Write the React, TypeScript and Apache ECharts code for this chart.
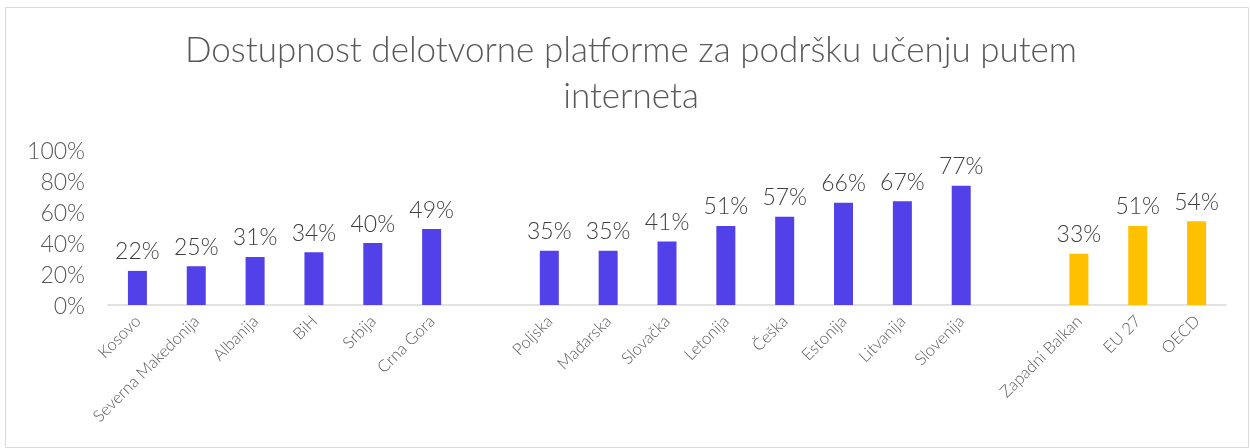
import React, { useEffect, useRef } from "react";
import * as echarts from "echarts";

const titleLines = ["Dostupnost delotvorne platforme za podršku učenju putem", "interneta"];
const balkanNames = ["Kosovo", "Severna Makedonija", "Albanija", "BiH", "Srbija", "Crna Gora"];
const balkanValues = [22, 25, 31, 34, 40, 49];
const euNames = ["Poljska", "Mađarska", "Slovačka", "Letonija", "Češka", "Estonija", "Litvanija", "Slovenija"];
const euValues = [35, 35, 41, 51, 57, 66, 67, 77];
const refNames = ["Zapadni Balkan", "EU 27", "OECD"];
const refValues = [33, 51, 54];
const yTicks = [0, 20, 40, 60, 80, 100];

const PURPLE = "#5240E8";
const YELLOW = "#FFC000";

export default function App() {
  const ref = useRef<HTMLDivElement>(null);
  useEffect(() => {
    document.body.style.margin = "0";
    const chart = echarts.init(ref.current!, null, { renderer: "svg" });
    const categories = [...balkanNames, "", ...euNames, "", ...refNames];
    const data: any[] = [
      ...balkanValues.map((v) => ({ value: v, itemStyle: { color: PURPLE } })),
      { value: null },
      ...euValues.map((v) => ({ value: v, itemStyle: { color: PURPLE } })),
      { value: null },
      ...refValues.map((v) => ({ value: v, itemStyle: { color: YELLOW } })),
    ];
    chart.setOption({
      animation: false,
      textStyle: { fontFamily: "Lato" },
      graphic: [
        {
          type: "rect",
          shape: { x: 5.5, y: 7.5, width: 1243, height: 440 },
          style: { fill: "none", stroke: "#D9D9D9", lineWidth: 1 },
          silent: true,
        },
        {
          type: "text",
          x: 631,
          y: 25,
          style: {
            text: titleLines.join("\n"),
            fontFamily: "Lato",
            fontWeight: 300,
            fontSize: 35,
            lineHeight: 46,
            fill: "#595959",
            align: "center",
            verticalAlign: "top",
          },
        },
      ],
      grid: { left: 108, right: 24, top: 150, bottom: 143, containLabel: false },
      xAxis: {
        type: "category",
        data: categories,
        axisLine: { show: true, lineStyle: { color: "#D9D9D9", width: 1.5 } },
        axisTick: { show: false },
        axisLabel: {
          interval: 0,
          rotate: 45,
          margin: 13,
          fontSize: 16.5,
          fontFamily: "Lato",
          fontWeight: 300,
          color: "#595959",
        },
      },
      yAxis: {
        type: "value",
        min: 0,
        max: 100,
        interval: 20,
        splitLine: { show: false },
        axisLine: { show: false },
        axisTick: { show: false },
        axisLabel: {
          formatter: (v: number) => (yTicks.includes(v) ? v + "%" : ""),
          fontSize: 23,
          fontFamily: "Lato",
          fontWeight: 300,
          color: "#595959",
          margin: 23,
        },
      },
      series: [
        {
          type: "bar",
          data,
          barWidth: 19,
          label: {
            show: true,
            position: "top",
            distance: 9,
            formatter: (p: any) => (p.value == null ? "" : p.value + "%"),
            fontSize: 23,
            fontFamily: "Lato",
            fontWeight: 300,
            color: "#404040",
          },
        },
      ],
    });
    return () => chart.dispose();
  }, []);
  return <div ref={ref} style={{ position: "fixed", left: 0, top: 0, width: 1250, height: 448 }} />;
}
